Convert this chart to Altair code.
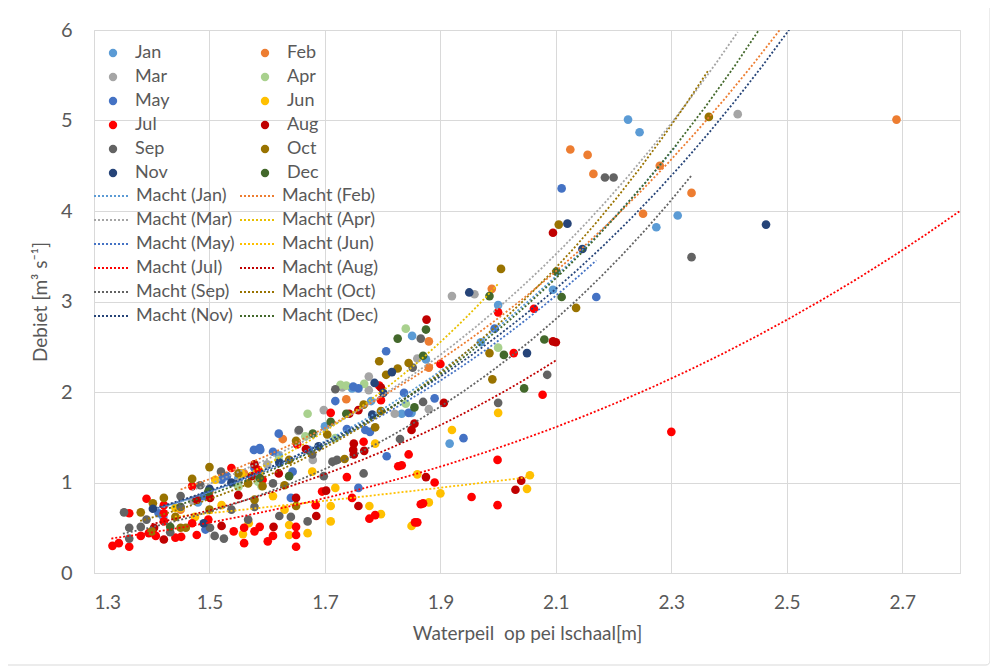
import altair as alt
import pandas as pd

months = ["Jan", "Feb", "Mar", "Apr", "May", "Jun", "Jul", "Aug", "Sep", "Oct", "Nov", "Dec"]
point_colors = ["#5B9BD5", "#ED7D31", "#A5A5A5", "#A9D18E", "#4472C4", "#FFC000",
                "#FF0000", "#C00000", "#636363", "#997300", "#264478", "#43682B"]
trend_colors = ["#5B9BD5", "#ED7D31", "#A5A5A5", "#E8C000", "#4472C4", "#FFC000",
                "#FF0000", "#C00000", "#636363", "#997300", "#264478", "#43682B"]
trend_labels = [f"Macht ({m})" for m in months]
# legend fills column by column: list odd months first, then even months
legend_order = [0, 2, 4, 6, 8, 10, 1, 3, 5, 7, 9, 11]

# trendline x-extent per month (start, end)
trend_start = [1.42, 1.45, 1.47, 1.55, 1.41, 1.44, 1.33, 1.40, 1.35, 1.38, 1.40, 1.43]
trend_end = [2.31, 2.69, 2.415, 2.0, 2.17, 2.055, 2.8, 2.10, 2.335, 2.365, 2.55, 2.72]

x_ticks = [1.3, 1.5, 1.7, 1.9, 2.1, 2.3, 2.5, 2.7]
y_ticks = [0, 1, 2, 3, 4, 5, 6]

jan = [(1.42, 0.62), (1.48, 0.78), (1.55, 1.05), (1.62, 1.30), (1.70, 1.62), (1.747, 2.04),
       (1.78, 1.90), (1.833, 1.76), (1.85, 1.77), (1.851, 2.62), (1.875, 2.36), (1.916, 1.43),
       (1.97, 2.55), (2.0, 2.96), (2.095, 3.13), (2.225, 5.01), (2.245, 4.87), (2.274, 3.82),
       (2.311, 3.95)]
feb = [(1.45, 0.70), (1.50, 0.90), (1.56, 1.10), (1.627, 1.48), (1.737, 1.92), (1.88, 2.56),
       (1.88, 2.27), (1.989, 3.14), (2.125, 4.68), (2.155, 4.62), (2.165, 4.41), (2.251, 3.97),
       (2.28, 4.50), (2.335, 4.20), (2.69, 5.01)]
mar = [(1.47, 0.80), (1.55, 1.00), (1.60, 1.20), (1.654, 1.57), (1.679, 1.25), (1.698, 1.80),
       (1.73, 2.05), (1.776, 2.02), (1.776, 2.17), (1.821, 1.76), (1.86, 2.37), (1.88, 1.81),
       (1.92, 3.06), (1.959, 3.08), (2.415, 5.07)]
apr = [(1.55, 0.95), (1.584, 1.01), (1.59, 0.96), (1.62, 1.25), (1.666, 1.51), (1.67, 1.76),
       (1.718, 1.49), (1.727, 2.08), (1.737, 2.07), (1.768, 2.09), (1.84, 2.70), (1.84, 1.87),
       (2.0, 2.49)]
may = [(1.412, 0.66), (1.49, 0.85), (1.493, 0.48), (1.521, 1.03), (1.53, 1.07), (1.577, 1.36),
       (1.578, 1.16), (1.587, 1.38), (1.588, 1.36), (1.61, 1.34), (1.62, 1.54), (1.641, 0.83),
       (1.644, 1.12), (1.672, 1.36), (1.718, 1.90), (1.738, 1.59), (1.749, 2.06), (1.758, 2.04),
       (1.758, 0.94), (1.77, 1.58), (1.778, 1.56), (1.806, 2.45), (1.807, 1.29), (1.837, 1.99),
       (1.845, 1.77), (1.89, 1.93), (1.94, 1.49), (1.994, 2.70), (2.11, 4.25), (2.17, 3.05)]
jun = [(1.441, 0.72), (1.45, 0.72), (1.475, 0.62), (1.51, 1.03), (1.521, 0.75), (1.555, 1.10),
       (1.558, 0.43), (1.568, 0.55), (1.587, 1.12), (1.61, 0.85), (1.63, 0.70), (1.638, 0.53),
       (1.638, 0.42), (1.67, 0.44), (1.678, 1.12), (1.71, 0.57), (1.71, 0.74), (1.718, 0.94),
       (1.777, 0.74), (1.787, 1.43), (1.797, 0.65), (1.85, 0.52), (1.86, 1.09), (1.88, 0.78),
       (1.9, 0.88), (1.92, 1.58), (2.0, 1.77), (2.05, 0.93), (2.055, 1.08)]
jul = [(1.332, 0.30), (1.343, 0.33), (1.361, 0.29), (1.361, 0.66), (1.381, 0.41), (1.391, 0.82),
       (1.395, 0.44), (1.407, 0.41), (1.421, 0.75), (1.421, 0.66), (1.421, 0.57), (1.441, 0.39),
       (1.451, 0.40), (1.47, 0.96), (1.47, 0.55), (1.478, 0.42), (1.498, 0.59), (1.538, 1.16),
       (1.542, 0.46), (1.56, 0.33), (1.56, 0.50), (1.578, 0.46), (1.584, 1.14), (1.587, 0.51),
       (1.592, 1.03), (1.601, 0.35), (1.61, 0.41), (1.65, 0.51), (1.65, 0.42), (1.65, 0.29),
       (1.652, 1.42), (1.684, 0.75), (1.695, 0.90), (1.71, 1.77), (1.738, 1.06), (1.747, 0.83),
       (1.767, 1.45), (1.777, 0.60), (1.787, 0.64), (1.794, 2.07), (1.797, 1.91), (1.827, 1.18),
       (1.833, 1.19), (1.845, 1.31), (1.856, 0.56), (1.86, 0.56), (1.866, 0.76), (1.87, 0.77),
       (1.89, 1.00), (1.9, 2.31), (1.954, 0.84), (1.999, 1.25), (1.999, 0.75), (2.0, 2.88),
       (2.027, 2.43), (2.062, 2.92), (2.077, 1.97), (2.3, 1.56)]
aug = [(1.404, 0.50), (1.421, 0.37), (1.478, 0.81), (1.501, 0.83), (1.521, 0.52), (1.55, 0.86),
       (1.573, 1.07), (1.578, 1.20), (1.611, 0.51), (1.62, 1.10), (1.65, 0.83), (1.667, 1.37),
       (1.685, 0.63), (1.702, 0.91), (1.742, 1.76), (1.749, 1.36), (1.75, 1.43), (1.75, 1.31),
       (1.758, 0.74), (1.758, 1.80), (1.768, 1.35), (1.797, 2.05), (1.85, 1.58), (1.855, 1.65),
       (1.875, 1.06), (1.876, 2.80), (1.906, 1.88), (2.03, 0.92), (2.04, 1.02), (2.095, 2.56),
       (2.1, 2.55), (2.095, 3.76)]
sep = [(1.352, 0.67), (1.361, 0.50), (1.361, 0.38), (1.381, 0.51), (1.391, 0.59), (1.432, 0.45),
       (1.45, 0.85), (1.45, 0.73), (1.484, 0.97), (1.501, 0.50), (1.509, 0.41), (1.52, 1.12),
       (1.525, 0.38), (1.538, 0.70), (1.567, 0.59), (1.578, 0.73), (1.61, 0.99), (1.621, 0.63),
       (1.641, 0.62), (1.655, 1.58), (1.67, 0.57), (1.678, 1.31), (1.698, 1.07), (1.713, 1.23),
       (1.718, 2.03), (1.721, 1.25), (1.767, 1.10), (1.83, 1.48), (1.852, 2.27), (1.866, 2.59),
       (1.87, 1.89), (2.0, 1.88), (2.085, 2.19), (2.185, 4.37), (2.2, 4.37), (2.335, 3.49)]
oct_ = [(1.381, 0.67), (1.40, 0.46), (1.402, 0.77), (1.421, 0.83), (1.441, 0.62), (1.45, 0.50),
        (1.459, 0.50), (1.47, 1.04), (1.5, 1.17), (1.5, 0.70), (1.55, 1.10), (1.567, 0.99),
        (1.578, 0.81), (1.592, 0.96), (1.63, 0.97), (1.638, 1.25), (1.65, 1.46), (1.65, 0.74),
        (1.704, 1.53), (1.734, 1.26), (1.767, 1.86), (1.787, 1.61), (1.794, 2.34), (1.797, 1.79),
        (1.806, 2.19), (1.826, 2.26), (1.845, 2.32), (1.985, 2.43), (1.99, 2.14), (2.005, 3.36),
        (2.105, 3.85), (2.135, 2.93), (2.365, 5.04)]
nov = [(1.402, 0.71), (1.49, 0.55), (1.5, 0.93), (1.538, 1.0), (1.621, 1.22), (1.689, 1.40),
       (1.782, 1.75), (1.786, 2.10), (1.801, 1.99), (1.816, 2.22), (1.95, 3.10), (2.05, 2.43),
       (2.12, 3.86), (2.146, 3.58), (2.464, 3.85)]
dec = [(1.432, 0.51), (1.498, 0.90), (1.587, 1.05), (1.638, 1.07), (1.679, 1.54), (1.71, 1.67),
       (1.737, 1.76), (1.826, 2.59), (1.855, 1.83), (1.87, 2.40), (1.875, 2.69), (1.985, 3.06),
       (2.01, 2.41), (2.045, 2.04), (2.08, 2.58), (2.101, 3.33), (2.11, 3.05)]

series = [jan, feb, mar, apr, may, jun, jul, aug, sep, oct_, nov, dec]
rows = []
for i, (m, pts) in enumerate(zip(months, series)):
    for (xv, yv) in pts:
        rows.append({"month": m, "order": i, "x": xv, "y": yv})
df = pd.DataFrame(rows)

FONT = "Lato"
GREY = "#595959"
W, H = 866, 543

xscale = alt.Scale(domain=[1.3, 2.8], nice=False, zero=False)
yscale = alt.Scale(domain=[0, 6], nice=False)

x_enc = alt.X("x:Q", scale=xscale,
              axis=alt.Axis(values=x_ticks, format=".1f", title="Waterpeil\u00a0 op pei lschaal[m]",
                            grid=True, gridColor="#D9D9D9", domainColor="#D9D9D9", ticks=False,
                            labelPadding=20, labelFontSize=19, labelColor=GREY, labelFont=FONT,
                            titleFontSize=19, titleColor=GREY, titleFont=FONT, titleFontWeight="normal",
                            titlePadding=12))
y_enc = alt.Y("y:Q", scale=yscale,
              axis=alt.Axis(values=y_ticks, format="d", title="Debiet [m³ s⁻¹]", grid=True,
                            gridColor="#D9D9D9", domain=False, ticks=False, labelPadding=22,
                            labelFontSize=20, labelColor=GREY, labelFont=FONT, titleFontSize=19,
                            titleColor=GREY, titleFont=FONT, titleFontWeight="normal",
                            titlePadding=10))

point_legend = alt.Legend(title=None, orient="none", legendX=10, legendY=14, columns=2,
                          symbolType="circle", symbolSize=70, symbolStrokeWidth=0,
                          labelFontSize=18, labelColor=GREY, labelFont=FONT, labelOffset=13,
                          columnPadding=86, rowPadding=6, padding=0)

points = alt.Chart(df).mark_circle(size=75, opacity=1).encode(
    x=x_enc, y=y_enc,
    color=alt.Color("month:N",
                    scale=alt.Scale(domain=[months[i] for i in legend_order],
                                    range=[point_colors[i] for i in legend_order]),
                    legend=point_legend),
    order=alt.Order("order:Q"),
)

line_legend = alt.Legend(title=None, orient="none", legendX=9, legendY=157, columns=2,
                         symbolType="M-3,0H3", symbolSize=144, symbolStrokeWidth=2,
                         symbolDash=[2, 2], labelFontSize=18, labelColor=GREY, labelFont=FONT,
                         labelOffset=15, columnPadding=1, rowPadding=6, padding=0)

line_layers = []
for m, lab, x0, x1 in zip(months, trend_labels, trend_start, trend_end):
    line_layers.append(
        alt.Chart(df).transform_filter(alt.datum.month == m)
        .transform_regression("x", "y", method="pow", extent=[x0, x1])
        .transform_calculate(trend=f"'{lab}'")
        .mark_line(strokeDash=[2, 2], strokeWidth=1.8, clip=True)
        .encode(x=alt.X("x:Q", scale=xscale), y=alt.Y("y:Q", scale=yscale),
                color=alt.Color("trend:N",
                                scale=alt.Scale(domain=[trend_labels[i] for i in legend_order],
                                                range=[trend_colors[i] for i in legend_order]),
                                legend=line_legend))
    )
lines = alt.layer(*line_layers)

border = alt.Chart(pd.DataFrame({"a": [0]})).mark_rect(
    fillOpacity=0, stroke="#D9D9D9", strokeWidth=1, cornerRadius=4
).encode(x=alt.value(-90), x2=alt.value(W + 30), y=alt.value(-26), y2=alt.value(H + 92))

chart = alt.layer(border, points, lines).resolve_scale(color="independent").properties(
    width=W, height=H,
    autosize=alt.AutoSizeParams(type="none"),
    padding={"left": 86, "top": 22, "right": 30, "bottom": 93},
).configure_view(stroke=None).configure(background="white")

chart.save("out.html", embed_options={"renderer": "svg", "actions": False})
